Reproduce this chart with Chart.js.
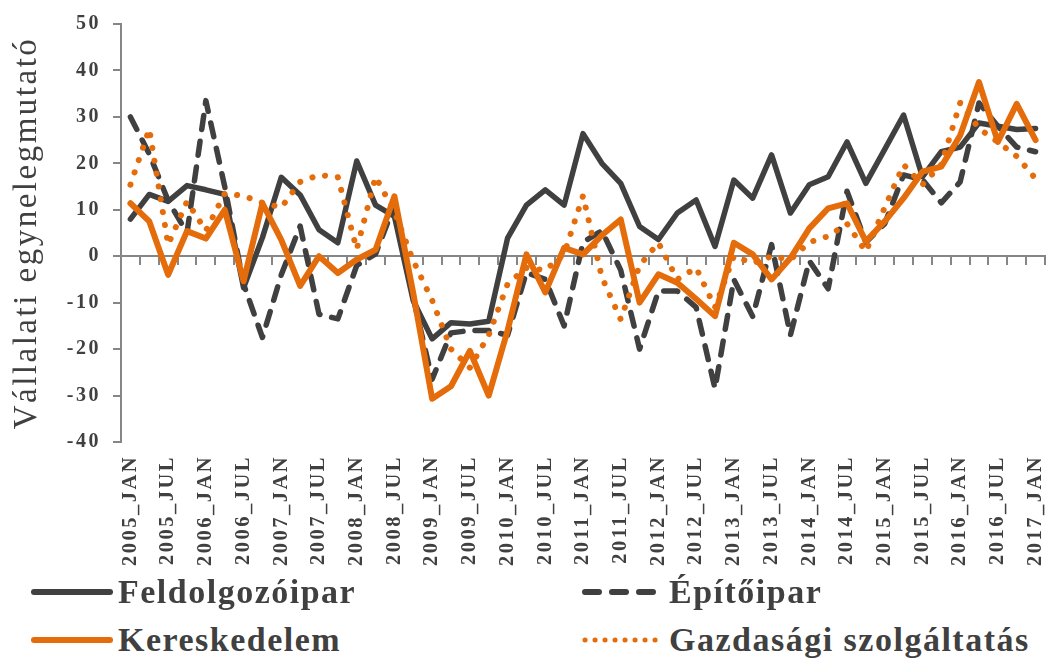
<!DOCTYPE html>
<html>
<head>
<meta charset="utf-8">
<script src="https://cdn.jsdelivr.net/npm/chart.js@4.4.0/dist/chart.umd.min.js"></script>
<style>
    html, body { margin: 0; padding: 0; background: #fff; }
    #wrap { position: relative; width: 1048px; height: 659px; overflow: hidden; }
    #chartCanvas { position: absolute; left: 0; top: 0; }
    .item {
        position: absolute; display: flex; align-items: center; height: 44px;
        font-family: 'Liberation Serif', serif; font-weight: bold; font-size: 34px;
        letter-spacing: 1.5px; color: #404040; white-space: nowrap;
    }
    .item svg { margin-right: 4px; }
</style>
</head>
<body>
<div id="wrap">
    <canvas id="chartCanvas" width="1048" height="578"></canvas>
    <div id="legend"></div>
</div>
<script>
// quarterly categories
const categories = [
    '2005_JAN', '2005_APR', '2005_JUL', '2005_OCT',
    '2006_JAN', '2006_APR', '2006_JUL', '2006_OCT',
    '2007_JAN', '2007_APR', '2007_JUL', '2007_OCT',
    '2008_JAN', '2008_APR', '2008_JUL', '2008_OCT',
    '2009_JAN', '2009_APR', '2009_JUL', '2009_OCT',
    '2010_JAN', '2010_APR', '2010_JUL', '2010_OCT',
    '2011_JAN', '2011_APR', '2011_JUL', '2011_OCT',
    '2012_JAN', '2012_APR', '2012_JUL', '2012_OCT',
    '2013_JAN', '2013_APR', '2013_JUL', '2013_OCT',
    '2014_JAN', '2014_APR', '2014_JUL', '2014_OCT',
    '2015_JAN', '2015_APR', '2015_JUL', '2015_OCT',
    '2016_JAN', '2016_APR', '2016_JUL', '2016_OCT',
    '2017_JAN'
];

const feldolgozoipar = [8, 13.3, 11.8, 15.2, 14.3, 13.3, -6.8, 4, 17, 13.2, 5.7, 2.9, 20.5, 11, 8.6, -9.6,
    -17.8, -14.3, -14.6, -14, 3.9, 11, 14.3, 11, 26.4, 20, 15.7, 6.4, 3.6, 9.3, 12.1, 2.1,
    16.4, 12.5, 21.8, 9.3, 15.4, 17.1, 24.6, 15.7, 23, 30.4, 17.1, 22.5, 23.5, 28.7, 28, 27.3, 27.5];

const epitoipar = [30, 22, 12, 5, 33.5, 15, -6, -17.5, -4, 6.5, -12.5, -13.5, -2, 0.5, 11, -9,
    -26.5, -16.5, -16, -16, -17, -3.5, -5, -15, 3, 5.5, -3, -20, -7.5, -7.5, -11, -28.5,
    -5, -13, 2.5, -17, -1, -7, 14, 3, 7, 17.5, 16.5, 11.5, 16, 33, 28, 23.5, 22.5];

const kereskedelem = [11.4, 7.5, -4, 5.4, 3.8, 10, -5.4, 11.4, 3.5, -6.4, 0, -3.6, -0.7, 1.4, 12.9, -8,
    -30.7, -28, -20.4, -30, -16, 0.4, -7.8, 1.8, 0.4, 4.5, 7.9, -10, -3.9, -5.7, -9.2, -12.9,
    2.9, 0.4, -5, -0.4, 6, 10.3, 11.4, 3.2, 7.5, 12.5, 18.2, 19.3, 26, 37.5, 24.6, 32.8, 25];

const gazdasagi = [15.4, 27.4, 2.5, 11.8, 5.5, 13.5, 13, 11.5, 10.5, 16, 17.5, 17, 1.5, 17.1, 9.6, -1,
    -9.5, -20, -24, -17, -6, -2.5, -3, 0.5, 13, -4.5, -13.6, -2, 2.9, -5, -2.5, -11,
    0, -1.5, 0, -0.7, 3, 4.3, 7, 1, 10.5, 19.7, 15.4, 19.7, 33, 27.5, 24.6, 21.5, 16.7];

const yTicks = { min: -40, max: 50, step: 10 };

const DARK = '#404040';
const ORANGE = '#E46C0A';
const AXIS = '#868686';
const FONT = "'Liberation Serif', serif";

// legend samples (same look as the chart lines)
const legendItems = [
    { text: 'Feldolgozóipar', color: DARK, dash: null, width: 6, left: 30, top: 570 },
    { text: 'Építőipar', color: DARK, dash: '14 13', width: 6, left: 581, top: 570 },
    { text: 'Kereskedelem', color: ORANGE, dash: null, width: 6, left: 30, top: 618 },
    { text: 'Gazdasági szolgáltatás', color: ORANGE, dash: '0.1 9.9', width: 5, left: 581, top: 618 }
];

function buildLegend() {
    const box = document.getElementById('legend');
    legendItems.forEach(it => {
        const div = document.createElement('div');
        div.className = 'item';
        div.style.left = it.left + 'px';
        div.style.top = it.top + 'px';
        const dashAttr = it.dash ? ` stroke-dasharray="${it.dash}"` : '';
        div.innerHTML = `<svg width="84" height="12"><line x1="4" y1="6" x2="80" y2="6" stroke="${it.color}" stroke-width="${it.width}" stroke-linecap="round"${dashAttr}/></svg><span>${it.text}</span>`;
        box.appendChild(div);
    });
}

// wider letter spacing for the axis texts (the original uses a wide serif)
const spacingPlugin = {
    id: 'spacing',
    beforeDraw(chart) { chart.ctx.letterSpacing = '2.5px'; },
    beforeDatasetsDraw(chart) { chart.ctx.letterSpacing = '0px'; }
};

function initChart() {
    const ctx = document.getElementById('chartCanvas').getContext('2d');
    new Chart(ctx, {
        type: 'line',
        data: {
            labels: categories,
            datasets: [
                { label: 'Feldolgozóipar', data: feldolgozoipar, borderColor: DARK, borderWidth: 5.5, order: 3 },
                { label: 'Építőipar', data: epitoipar, borderColor: DARK, borderWidth: 5.5, borderDash: [14, 12], order: 2 },
                { label: 'Kereskedelem', data: kereskedelem, borderColor: ORANGE, borderWidth: 6, order: 1 },
                { label: 'Gazdasági szolgáltatás', data: gazdasagi, borderColor: ORANGE, borderWidth: 6, borderDash: [0.1, 12.9], order: 0 }
            ]
        },
        options: {
            responsive: false, animation: false, devicePixelRatio: 1,
            layout: { padding: { top: 22, right: 3, left: 0, bottom: 0 } },
            elements: {
                point: { radius: 0, hoverRadius: 0 },
                line: { tension: 0, fill: false, borderCapStyle: 'round', borderJoinStyle: 'round' }
            },
            plugins: { legend: { display: false }, tooltip: { enabled: false } },
            scales: {
                x: {
                    type: 'category', position: 'bottom', offset: true,
                    grid: { display: false, drawTicks: false },
                    border: { display: false },
                    ticks: {
                        autoSkip: false, maxRotation: 90, minRotation: 90, padding: 13,
                        color: DARK, font: { family: FONT, size: 20.5, weight: 'bold' },
                        callback: function (v, i) { return i % 2 === 0 ? this.getLabelForValue(v) : ''; }
                    },
                    afterFit: s => { s.height = 136; s.paddingLeft = 0; s.paddingRight = 0; }
                },
                xZero: {
                    type: 'category', position: { y: 0 }, offset: true,
                    grid: { offset: true, drawOnChartArea: false, drawTicks: true, tickLength: 8, color: AXIS, lineWidth: 2 },
                    border: { display: true, color: AXIS, width: 2 },
                    ticks: { display: false },
                    afterFit: s => { s.paddingLeft = 0; s.paddingRight = 0; }
                },
                y: {
                    min: yTicks.min, max: yTicks.max,
                    ticks: { stepSize: yTicks.step, padding: 12, color: DARK, font: { family: FONT, size: 20, weight: 'bold' } },
                    grid: { drawOnChartArea: false, tickLength: 8, color: AXIS, lineWidth: 2 },
                    border: { color: AXIS, width: 2 },
                    title: {
                        display: true, text: 'Vállalati egynelegmutató', color: DARK,
                        font: { family: FONT, size: 33 }, padding: { top: 8, bottom: 0 }
                    },
                    afterFit: s => { s.width = 121; }
                }
            }
        },
        plugins: [spacingPlugin]
    });
}

buildLegend();
initChart();
</script>
</body>
</html>
